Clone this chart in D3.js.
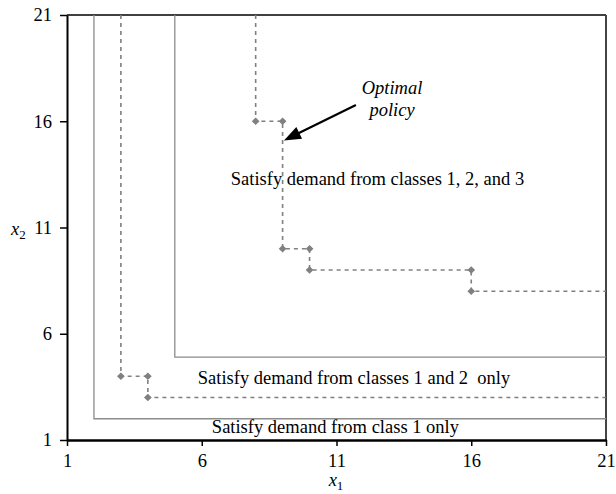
<!DOCTYPE html>
<html>
<head>
<meta charset="utf-8">
<script src="https://cdn.jsdelivr.net/npm/d3@7"></script>
<style>
  html, body { margin: 0; padding: 0; background: #fff; }
  svg text { font-family: "Liberation Serif", "Times New Roman", serif; fill: #000; }
</style>
</head>
<body>
<svg id="chart" width="616" height="494"></svg>
<script>
// Axis ticks
const xTicks = [1, 6, 11, 16, 21];
const yTicks = [1, 6, 11, 16, 21];

// Region boundaries (solid grey)
const boundaryClass1 = [[2, 21], [2, 2], [21, 2]];
const boundaryClass2 = [[5, 21], [5, 4.9], [21, 4.9]];

// Rationing policy curves (dashed with diamond markers)
const policyLow = [[3, 21], [3, 4], [4, 4], [4, 3], [21, 3]];
const policyLowMarks = [[3, 4], [4, 4], [4, 3]];
const policyHigh = [[8, 21], [8, 16], [9, 16], [9, 10], [10, 10], [10, 9], [16, 9], [16, 8], [21, 8]];
const policyHighMarks = [[8, 16], [9, 16], [9, 10], [10, 10], [10, 9], [16, 9], [16, 8]];

// Region labels: [text, x1 centre, x2 baseline]
const regionLabels = [
  ["Satisfy demand from classes 1, 2, and 3", 12.52, 13.0],
  ["Satisfy demand from classes 1 and 2  only", 11.65, 3.64],
  ["Satisfy demand from class 1 only", 10.96, 1.31]
];

// Annotation arrow: from (x1,x2) to (x1,x2)
const arrowFrom = [11.72, 16.76];
const arrowTo = [9.05, 15.1];

const svg = d3.select("#chart");
const x = d3.scaleLinear().domain([1, 21]).range([67, 606]);
const y = d3.scaleLinear().domain([1, 21]).range([440, 15]);
const line = d3.line().x(d => x(d[0])).y(d => y(d[1]));

// Frame: top and right
svg.append("line").attr("x1", x(1)).attr("x2", x(21)).attr("y1", y(21)).attr("y2", y(21))
  .attr("stroke", "#000").attr("stroke-width", 1.5);
svg.append("line").attr("x1", x(21)).attr("x2", x(21)).attr("y1", y(21)).attr("y2", y(1))
  .attr("stroke", "#444").attr("stroke-width", 2);

// Boundaries
[boundaryClass1, boundaryClass2].forEach(b => {
  svg.append("path").attr("d", line(b)).attr("fill", "none")
    .attr("stroke", "#8c8c8c").attr("stroke-width", 1.3);
});

// Policies
[[policyLow, policyLowMarks], [policyHigh, policyHighMarks]].forEach(([pts, marks]) => {
  svg.append("path").attr("d", line(pts)).attr("fill", "none")
    .attr("stroke", "#808080").attr("stroke-width", 1.6)
    .attr("stroke-dasharray", "4,4");
  svg.selectAll(null).data(marks).enter().append("path")
    .attr("d", d3.symbol().type(d3.symbolSquare).size(30))
    .attr("transform", d => `translate(${x(d[0])},${y(d[1])}) rotate(45)`)
    .attr("fill", "#808080");
});

// Axes
const xAxis = svg.append("g").attr("transform", `translate(0,${y(1)})`)
  .call(d3.axisBottom(x).tickValues(xTicks).tickSize(6).tickPadding(8).tickSizeOuter(0));
const yAxis = svg.append("g").attr("transform", `translate(${x(1)},0)`)
  .call(d3.axisLeft(y).tickValues(yTicks).tickSize(7).tickPadding(8).tickSizeOuter(0));
[xAxis, yAxis].forEach(g => {
  g.attr("font-family", null).attr("font-size", null);
  g.selectAll("text").style("font-size", "18.5px");
  g.selectAll(".tick line").attr("stroke", "#000").attr("stroke-width", 1.5);
});
xAxis.select(".domain").attr("stroke", "#000").attr("stroke-width", 2.5);
yAxis.select(".domain").attr("stroke", "#000").attr("stroke-width", 2);

// Axis titles
const xt = svg.append("text").attr("x", 336).attr("y", 486).attr("text-anchor", "middle")
  .style("font-size", "18.5px");
xt.append("tspan").style("font-style", "italic").text("x");
xt.append("tspan").attr("dy", 3.5).style("font-size", "13px").text("1");

const yt = svg.append("text").attr("x", 11).attr("y", 234.5)
  .style("font-size", "18.5px");
yt.append("tspan").style("font-style", "italic").text("x");
yt.append("tspan").attr("dy", 4).style("font-size", "13px").text("2");

// Region labels
svg.selectAll(".region").data(regionLabels).enter().append("text")
  .attr("class", "region")
  .attr("x", d => x(d[1])).attr("y", d => y(d[2]))
  .attr("text-anchor", "middle").style("font-size", "18.5px")
  .style("white-space", "pre").attr("xml:space", "preserve")
  .text(d => d[0]);

// Annotation
const ann = svg.append("text").attr("text-anchor", "middle")
  .style("font-size", "18.5px").style("font-style", "italic");
ann.append("tspan").attr("x", 392).attr("y", 94).text("Optimal");
ann.append("tspan").attr("x", 392).attr("y", 115.5).text("policy");

const p0 = [x(arrowFrom[0]), y(arrowFrom[1])];
const p1 = [x(arrowTo[0]), y(arrowTo[1])];
const dx = p1[0] - p0[0], dy = p1[1] - p0[1];
const len = Math.hypot(dx, dy);
const ux = dx / len, uy = dy / len;
const headLen = 17, headHalf = 6.5;
const base = [p1[0] - ux * headLen, p1[1] - uy * headLen];
svg.append("line").attr("x1", p0[0]).attr("y1", p0[1])
  .attr("x2", base[0] + ux * 2).attr("y2", base[1] + uy * 2)
  .attr("stroke", "#000").attr("stroke-width", 2.2);
svg.append("path")
  .attr("d", `M${p1[0]},${p1[1]}L${base[0] - uy * headHalf},${base[1] + ux * headHalf}L${base[0] + uy * headHalf},${base[1] - ux * headHalf}Z`)
  .attr("fill", "#000");
</script>
</body>
</html>
